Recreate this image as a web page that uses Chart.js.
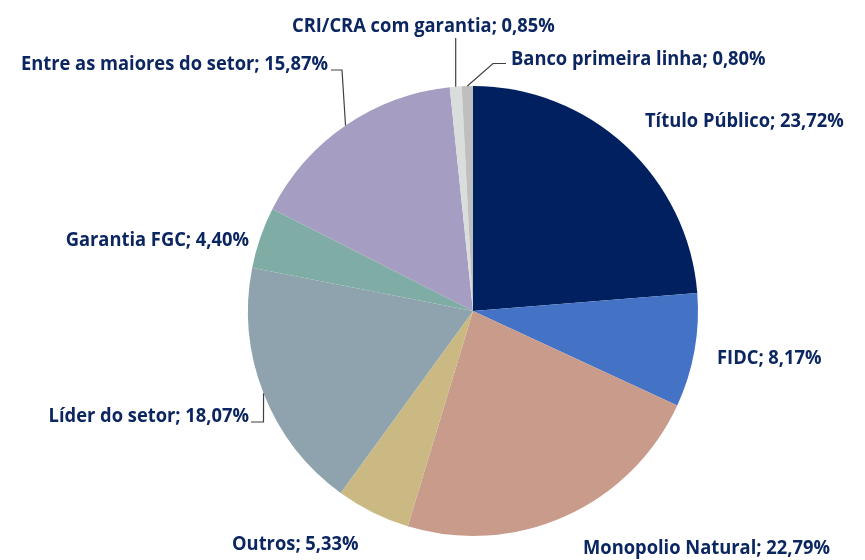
<!DOCTYPE html>
<html><head><meta charset="utf-8">
<script src="https://cdn.jsdelivr.net/npm/chart.js@4"></script>
<style>html,body{margin:0;padding:0;background:#fff}#wrap{width:865px;height:560px;position:relative}</style>
</head><body><div id="wrap"><canvas id="c" width="865" height="560"></canvas></div>
<script>
const categories = ["Título Público","FIDC","Monopolio Natural","Outros","Líder do setor","Garantia FGC","Entre as maiores do setor","CRI/CRA com garantia","Banco primeira linha"];
const values = [23.72, 8.17, 22.79, 5.33, 18.07, 4.40, 15.87, 0.85, 0.80];
const colors = ["#002060","#4472C4","#C99B8B","#CBB984","#8FA3AE","#7FADA5","#A69EC2","#D9DEDC","#BFBFBF"];

// label layout: x, baseline y, alignment, optional elbow point for leader line
const labelLayout = [
  {x:645, y:127, align:'left'},
  {x:717, y:364, align:'left'},
  {x:583, y:554, align:'left'},
  {x:232, y:550, align:'left'},
  {x:249, y:422, align:'right', elbow:[263.5,422], end:[251,422]},
  {x:249, y:246, align:'right'},
  {x:328, y:70, align:'right', elbow:[342,70], end:[331,70]},
  {x:292, y:31.5, align:'left', elbow:null, end:[455.7,38]},
  {x:511, y:65, align:'left', elbow:[493,63.5], end:[506,63.5]}
];

const fmt = v => v.toFixed(2).replace('.', ',') + '%';
const textScale = 0.94;

const labelPlugin = {
  id:'labels',
  afterDatasetsDraw(chart){
    const ctx = chart.ctx;
    const meta = chart.getDatasetMeta(0);
    ctx.save();
    meta.data.forEach((arc, i) => {
      const L = labelLayout[i];
      const p = arc.getProps(['x','y','startAngle','endAngle','outerRadius'], true);
      const mid = (p.startAngle + p.endAngle)/2;
      const ax = p.x + Math.cos(mid)*p.outerRadius;
      const ay = p.y + Math.sin(mid)*p.outerRadius;
      if (L.end){
        ctx.beginPath();
        ctx.strokeStyle = '#404040';
        ctx.lineWidth = 1.2;
        ctx.moveTo(ax, ay);
        if (L.elbow) ctx.lineTo(L.elbow[0], L.elbow[1]);
        ctx.lineTo(L.end[0], L.end[1]);
        ctx.stroke();
      }
      const txt = categories[i] + '; ' + fmt(values[i]);
      ctx.save();
      ctx.translate(L.x, L.y);
      ctx.scale(textScale, 1);
      ctx.font = '700 19.5px "Open Sans"';
      ctx.fillStyle = '#0B2660';
      ctx.textAlign = L.align;
      ctx.textBaseline = 'alphabetic';
      ctx.fillText(txt, 0, 0);
      ctx.restore();
    });
    ctx.restore();
  }
};

new Chart(document.getElementById('c'), {
  type:'pie',
  data:{labels:categories, datasets:[{data:values, backgroundColor:colors, borderWidth:0}]},
  options:{
    responsive:false, animation:false,
    layout:{padding:{left:248, right:167, top:86, bottom:24}},
    plugins:{legend:{display:false}, tooltip:{enabled:false}}
  },
  plugins:[labelPlugin]
});
</script></body></html>
